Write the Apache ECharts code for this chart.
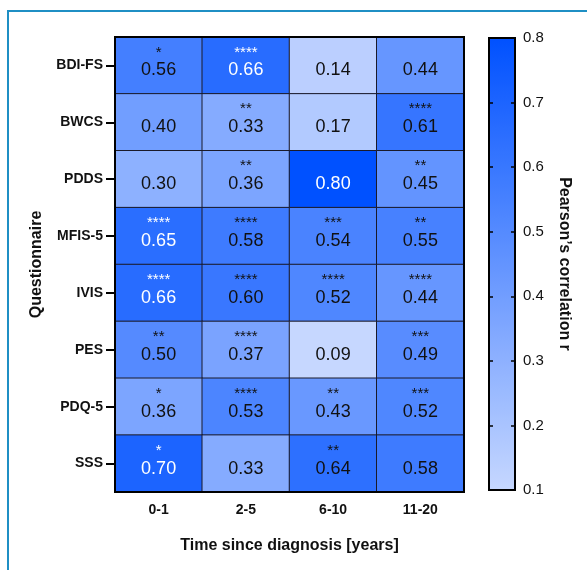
<!DOCTYPE html>
<html>
<head>
<meta charset="utf-8">
<script src="https://cdn.jsdelivr.net/npm/echarts@6/dist/echarts.min.js"></script>
<style>
	html, body { margin: 0; padding: 0; background: #fff; overflow: hidden; }
	#frame { position: absolute; left: 7px; top: 10px; width: 700px; height: 700px;
		border-left: 2px solid #1f8fc4; border-top: 2px solid #1f8fc4; }
	#heat-chart { position: absolute; left: 0; top: 0; width: 587px; height: 570px; }
</style>
</head>
<body>
<div id="frame"></div>
<div id="heat-chart"></div>
<script>
var periods = ['0-1', '2-5', '6-10', '11-20'];
var questionnaires = ['BDI-FS', 'BWCS', 'PDDS', 'MFIS-5', 'IVIS', 'PES', 'PDQ-5', 'SSS'];

// one row per questionnaire, one value per period
var correlations = [
	[0.56, 0.66, 0.14, 0.44],
	[0.40, 0.33, 0.17, 0.61],
	[0.30, 0.36, 0.80, 0.45],
	[0.65, 0.58, 0.54, 0.55],
	[0.66, 0.60, 0.52, 0.44],
	[0.50, 0.37, 0.09, 0.49],
	[0.36, 0.53, 0.43, 0.52],
	[0.70, 0.33, 0.64, 0.58]
];
var stars = [
	['*', '****', '', ''],
	['', '**', '', '****'],
	['', '**', '', '**'],
	['****', '****', '***', '**'],
	['****', '****', '****', '****'],
	['**', '****', '', '***'],
	['*', '****', '**', '***'],
	['*', '', '**', '']
];
var colorTicks = [0.1, 0.8];

var cells = [];
correlations.forEach(function(row, y) {
	row.forEach(function(v, x) {
		cells.push([x, y, v]);
	});
});

// colour bar scale axes (ticks pulled into the bar edges)
function barAxis(pos, extra) {
	var a = {
		type: 'value',
		gridIndex: 1,
		position: pos,
		offset: -4,
		min: colorTicks[0],
		max: colorTicks[1],
		interval: 0.1,
		z: 10,
		axisLine: { show: false },
		axisTick: { show: true, length: 4, lineStyle: { color: '#000', width: 1.5 } },
		splitLine: { show: false },
		axisLabel: { show: false }
	};
	for (var k in extra) a[k] = extra[k];
	return a;
}

var option = {
	animation: false,
	grid: [{
		left: 115, top: 37, width: 349, height: 455,
		show: true, borderColor: '#000', borderWidth: 2, z: 5
	}, {
		left: 489, top: 38, width: 26, height: 452,
		show: true, borderColor: '#000', borderWidth: 2, z: 10
	}],
	xAxis: [{
		type: 'category',
		data: periods,
		gridIndex: 0,
		z: 5,
		axisLine: { lineStyle: { color: '#000', width: 2 } },
		axisTick: { show: false },
		axisLabel: { color: '#111', fontWeight: 'bold', fontSize: 14, margin: 11, fontFamily: 'Liberation Sans' },
		name: 'Time since diagnosis [years]',
		nameLocation: 'middle',
		nameGap: 46,
		nameTextStyle: { color: '#111', fontWeight: 'bold', fontSize: 16, fontFamily: 'Liberation Sans' }
	}, {
		type: 'value',
		gridIndex: 1,
		show: false
	}],
	yAxis: [{
		type: 'category',
		data: questionnaires,
		inverse: true,
		gridIndex: 0,
		z: 5,
		axisLine: { show: true, lineStyle: { color: '#000', width: 2 } },
		axisTick: { show: true, alignWithLabel: true, length: 9, lineStyle: { color: '#000', width: 2 } },
		axisLabel: { color: '#111', fontWeight: 'bold', fontSize: 14, margin: 12, fontFamily: 'Liberation Sans' },
		name: 'Questionnaire',
		nameLocation: 'middle',
		nameGap: 70,
		nameTextStyle: { color: '#111', fontWeight: 'bold', fontSize: 16, fontFamily: 'Liberation Sans' }
	},
	barAxis('left', {}),
	barAxis('right', {}),
	barAxis('right', {
		offset: 0,
		axisTick: { show: false },
		axisLabel: {
			show: true, color: '#111', fontSize: 15, margin: 8, fontFamily: 'Liberation Sans',
			formatter: function(v) { return v.toFixed(1); }
		},
		name: 'Pearson\u2019s correlation r',
		nameLocation: 'middle',
		nameRotate: -90,
		nameGap: 41,
		nameTextStyle: { color: '#111', fontWeight: 'bold', fontSize: 16, fontFamily: 'Liberation Sans' }
	})],
	visualMap: {
		type: 'continuous',
		min: colorTicks[0],
		max: colorTicks[1],
		calculable: false,
		seriesIndex: 0,
		left: 489,
		top: 38,
		itemWidth: 26,
		itemHeight: 452,
		padding: 0,
		z: 1,
		text: null,
		inRange: { color: ['#c6d7ff', '#0051ff'] }
	},
	series: [{
		type: 'heatmap',
		xAxisIndex: 0,
		yAxisIndex: 0,
		data: cells,
		itemStyle: { borderColor: '#1a1a2a', borderWidth: 1 },
		emphasis: { disabled: true },
		label: {
			show: true,
			offset: [0, -2],
			formatter: function(p) {
				var v = p.value[2];
				var s = stars[p.value[1]][p.value[0]] || ' ';
				var w = v >= 0.65 ? 'w' : '';
				return '{s' + w + '|' + s + '}\n{v' + w + '|' + v.toFixed(2) + '}';
			},
			rich: {
				s: { fontSize: 15, lineHeight: 14, color: '#111', fontFamily: 'Liberation Sans' },
				sw: { fontSize: 15, lineHeight: 14, color: '#fff', fontFamily: 'Liberation Sans' },
				v: { fontSize: 18, lineHeight: 22, color: '#111', fontFamily: 'Liberation Sans' },
				vw: { fontSize: 18, lineHeight: 22, color: '#fff', fontFamily: 'Liberation Sans' }
			}
		}
	}]
};

var heatChart = echarts.init(document.getElementById('heat-chart'));
heatChart.setOption(option);
</script>
</body>
</html>
